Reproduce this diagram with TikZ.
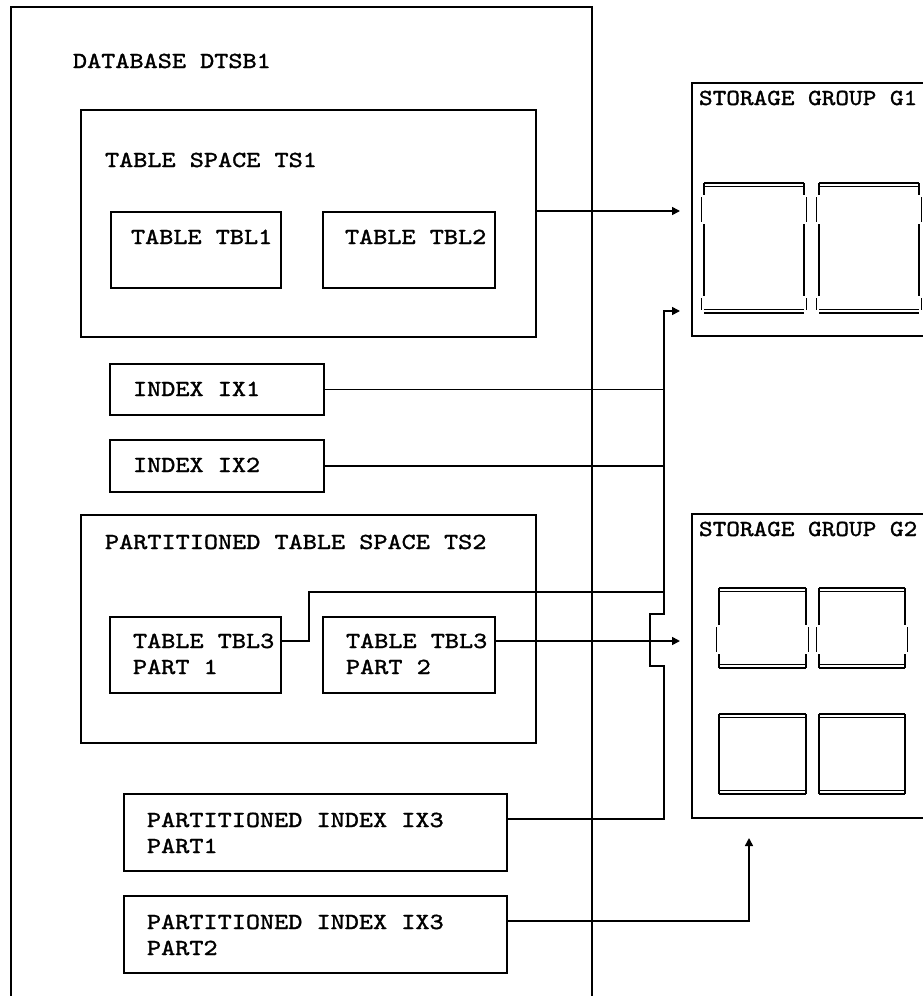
\documentclass[tikz,border=0pt]{standalone}
\usepackage{fontspec}
\usetikzlibrary{arrows.meta}
\newfontfamily\cour{lmmono10-regular.otf}[FakeBold=1.4, FakeStretch=1.17]
\newfontfamily\courn{lmmono10-regular.otf}[FakeBold=1.4, FakeStretch=1.13]
\newcommand\txt[1]{{\fontsize{23}{26}\selectfont\cour\begin{tabular}[t]{@{}l@{}}#1\end{tabular}}}
\newcommand\txtn[1]{{\fontsize{23}{26}\selectfont\courn #1}}
\newcommand\bnode[5]{\node[bx, minimum width={(#4)-(#2)}, minimum height={(#5)-(#3)}] (#1) at ({((#2)+(#4))/2},{((#3)+(#5))/2}) {};}
\newcommand\diskrims[4]{%
  \draw[line width=1.9pt] (#1,#2) -- (#3,#2);
  \draw[line width=0.8pt] (#1,{#2+3.8}) -- (#3,{#2+3.8});
  \draw[line width=0.8pt] (#1,{#4-3.8}) -- (#3,{#4-3.8});
  \draw[line width=1.9pt] (#1,#4) -- (#3,#4);}
\newcommand\diskplain[4]{\diskrims{#1}{#2}{#3}{#4}%
  \draw[line width=1.6pt] (#1,#2) -- (#1,#4) (#3,#2) -- (#3,#4);}
\newcommand\disknotch[6]{\diskrims{#1}{#2}{#3}{#4}%
  \draw[line width=1.6pt] (#1,#2) -- (#1,{#5-2}) ({#1-2.6},#5) -- ({#1-2.6},#6) (#1,{#6+2}) -- (#1,#4)
    (#3,#2) -- (#3,{#5-2}) ({#3+2.6},#5) -- ({#3+2.6},#6) (#3,{#6+2}) -- (#3,#4);}
\newcommand\disktwo[8]{\diskrims{#1}{#2}{#3}{#4}%
  \draw[line width=1.6pt] (#1,#2) -- (#1,{#5-2}) ({#1-2.6},#5) -- ({#1-2.6},#6) (#1,{#6+2}) -- (#1,{#7-2}) ({#1-2.6},#7) -- ({#1-2.6},#8)
    (#3,#2) -- (#3,{#5-2}) ({#3+2.6},#5) -- ({#3+2.6},#6) (#3,{#6+2}) -- (#3,{#7-2}) ({#3+2.6},#7) -- ({#3+2.6},#8);}
\begin{document}
\begin{tikzpicture}[x=1pt,y=-1pt,
  bx/.style={draw, rectangle, line width=1.6pt, inner sep=0pt, outer sep=0pt},
  lbl/.style={anchor=base west, inner sep=0pt, outer sep=0pt},
  con/.style={line width=1.6pt},
  arr/.style={con, -{Triangle[length=8pt,width=8pt]}, shorten >=12pt}]
\fill[white] (0,0) rectangle (922,996);
\useasboundingbox (0,0) rectangle (922,996);

% containers and boxes
\bnode{db}{11}{7}{592}{1012}
\bnode{ts1}{81}{110}{536}{337}
\bnode{tbl1}{111}{212}{281}{288}
\bnode{tbl2}{323}{212}{495}{288}
\bnode{ix1}{110}{364}{324}{415}
\bnode{ix2}{110}{440}{324}{492}
\bnode{ts2}{81}{515}{536}{743}
\bnode{p1}{110}{617}{281}{693}
\bnode{p2}{323}{617}{495}{693}
\bnode{ix3a}{124}{794}{507}{871}
\bnode{ix3b}{124}{896}{507}{973}
\bnode{g1}{692}{83}{950}{336}
\bnode{g2}{692}{514}{950}{818}

% labels
\node[lbl] (tdb) at (73,68) {\txt{DATABASE DTSB1}};
\node[lbl] (tts1) at (105,167) {\txt{TABLE SPACE TS1}};
\node[lbl] (ttbl1) at (131,244) {\txt{TABLE TBL1}};
\node[lbl] (ttbl2) at (345,244) {\txt{TABLE TBL2}};
\node[lbl] (tix1) at (133,396) {\txt{INDEX IX1}};
\node[lbl] (tix2) at (133,472) {\txt{INDEX IX2}};
\node[lbl] (tts2) at (105,549) {\txt{PARTITIONED TABLE SPACE TS2}};
\node[lbl] (tp1) at (133,648) {\txt{TABLE TBL3\\PART 1}};
\node[lbl] (tp2) at (346,648) {\txt{TABLE TBL3\\PART 2}};
\node[lbl] (tix3a) at (147,827) {\txt{PARTITIONED INDEX IX3\\PART1}};
\node[lbl] (tix3b) at (147,929) {\txt{PARTITIONED INDEX IX3\\PART2}};
\node[lbl] (tg1) at (699,105) {\txtn{STORAGE GROUP G1}};
\node[lbl] (tg2) at (699,536) {\txtn{STORAGE GROUP G2}};

% disks
\disktwo{704}{183}{804}{313}{197}{222}{298}{310}
\disktwo{819}{183}{919}{313}{197}{222}{298}{310}
\disknotch{719}{588}{806}{668}{627}{652}
\disknotch{819}{588}{905}{668}{627}{652}
\diskplain{719}{714}{806}{794}
\diskplain{819}{714}{905}{794}

% connector helper coordinates
\coordinate (bus) at (664,0);
\coordinate (jx) at (650,0);
\coordinate (kx) at (309,0);
\coordinate (up) at (749,0);
\coordinate (yA) at (0,211);
\coordinate (yB) at (0,311);
\coordinate (yC) at (0,592);
\coordinate (yP) at (0,641);
\coordinate (j1) at (0,614);
\coordinate (j2) at (0,666);
\coordinate (yD) at (0,819);
\coordinate (yE) at (0,921);

% connectors
\draw[arr] (ts1.east |- yA) -- (g1.west |- yA);
\draw[arr] (ix3a.east |- yD) -- (bus |- yD) -- (bus |- j2) -- (jx |- j2) -- (jx |- j1) -- (bus |- j1) -- (bus |- yB) -- (g1.west |- yB);
\draw[con] (ix1.east) -- (ix1.east -| bus);
\draw[con] (ix2.east) -- (ix2.east -| bus);
\draw[con] (p1.east |- yP) -- (kx |- yP) -- (kx |- yC) -- (bus |- yC);
\draw[arr] (p2.east |- yP) -- (g2.west |- yP);
\draw[arr, shorten >=20pt] (ix3b.east |- yE) -- (up |- yE) -- (up |- g2.south);
\end{tikzpicture}
\end{document}
